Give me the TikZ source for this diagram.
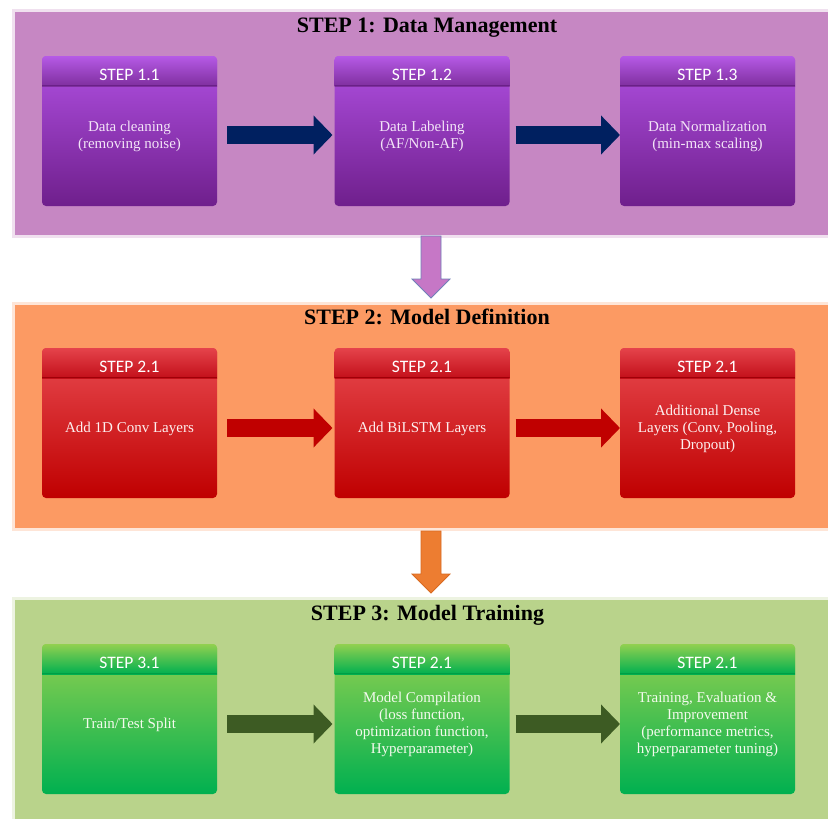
\documentclass[tikz,border=0pt]{standalone}
\usepackage{fontspec}
\setmainfont{Liberation Serif}
\newfontfamily\hdrfont{Carlito}
\usetikzlibrary{calc,arrows.meta}
\definecolor{bgA}{HTML}{C687C3}
\definecolor{bgB}{HTML}{FC9A63}
\definecolor{bgC}{HTML}{B9D38B}
\definecolor{hAt}{HTML}{B65AE6}
\definecolor{hAb}{HTML}{7F2F9F}
\definecolor{hAl}{HTML}{6A2088}
\definecolor{bAt}{HTML}{B050E2}
\definecolor{bAb}{HTML}{6F1F8C}
\definecolor{tA}{HTML}{F3E4F7}
\definecolor{hBt}{HTML}{E5434B}
\definecolor{hBb}{HTML}{C3101A}
\definecolor{hBl}{HTML}{A00008}
\definecolor{bBt}{HTML}{E84A50}
\definecolor{bBb}{HTML}{BF0000}
\definecolor{tB}{HTML}{FDF0F0}
\definecolor{hCt}{HTML}{92D050}
\definecolor{hCb}{HTML}{00B050}
\definecolor{hCl}{HTML}{009E45}
\definecolor{bCt}{HTML}{92D050}
\definecolor{bCb}{HTML}{00B050}
\definecolor{tC}{HTML}{F4FAEE}
\definecolor{arrA}{HTML}{002060}
\definecolor{arrB}{HTML}{C00000}
\definecolor{arrC}{HTML}{3D5B23}
\definecolor{dnA}{HTML}{C677C6}
\definecolor{dnAl}{HTML}{7080B8}
\definecolor{dnB}{HTML}{ED7D31}
\definecolor{dnBl}{HTML}{D86A20}
\tikzset{
  panel/.style={anchor=north west, inner sep=0pt, outer sep=0pt},
  box/.style={rounded corners=4pt, minimum width=175pt, minimum height=150pt, inner sep=0pt, outer sep=0pt},
  hdrtext/.style={text=white, font=\hdrfont\fontsize{17.5}{19}\selectfont, inner sep=0pt},
  bodytext/.style={align=center, font=\fontsize{15}{17}\selectfont, inner sep=0pt},
  titletext/.style={anchor=base, font=\bfseries\fontsize{22}{24}\selectfont, text=black, inner sep=0pt},
  harrow/.style={line width=18pt, -{Triangle[length=19pt,width=38pt]}},
  dnarrow/.style={line width=0.8pt, line join=miter}
}
\newcommand\mkbox[6]{%
  \node[box, top color=b#4t, bottom color=b#4b] (#1) at (#2,#3) {};
  \begin{scope}
    \clip[rounded corners=4pt] (#1.north west) rectangle (#1.south east);
    \shade[top color=h#4t, bottom color=h#4b] (#1.north west) rectangle ($(#1.north east)+(0,30)$);
    \draw[h#4l, line width=1pt] ($(#1.north west)+(0,29.5)$) -- ($(#1.north east)+(0,29.5)$);
  \end{scope}
  \node[hdrtext, anchor=base] (#1h) at ($(#1.north)+(0,24.5)$) {#5};
  \node[bodytext, text=t#4] (#1t) at ($(#1.center)+(0,5.5)$) {#6};
}
\begin{document}
\begin{tikzpicture}[x=1pt,y=-1pt]
\useasboundingbox (0,0) rectangle (828,819);
\fill[white] (0,0) rectangle (828,819);

% panels
\node[panel, fill=bgA, minimum width=813pt, minimum height=223pt] (p1) at (15,12) {};
\node[panel, fill=bgB, minimum width=813pt, minimum height=223pt] (p2) at (15,305) {};
\node[panel, fill=bgC, minimum width=813pt, minimum height=219pt] (p3) at (15,600) {};
\draw[bgA, line width=6pt, opacity=0.25] (p1.north west) rectangle (p1.south east);
\draw[bgB, line width=6pt, opacity=0.25] (p2.north west) rectangle (p2.south east);
\draw[bgC, line width=6pt, opacity=0.25] (p3.north west) rectangle (p3.south east);

% titles
\node[titletext] (T1) at (427,32) {STEP 1: Data Management};
\node[titletext] (T2) at (427,324) {STEP 2: Model Definition};
\node[titletext] (T3) at (427.5,620) {STEP 3: Model Training};

% row 1
\mkbox{b11}{129.5}{131}{A}{STEP 1.1}{Data cleaning\\(removing noise)}
\mkbox{b12}{422}{131}{A}{STEP 1.2}{Data Labeling\\(AF/Non-AF)}
\mkbox{b13}{707.5}{131}{A}{STEP 1.3}{Data Normalization\\(min-max scaling)}
\draw[harrow, arrA] ($(b11.east)+(10,4)$) -- ($(b12.west)+(-2,4)$);
\draw[harrow, arrA] ($(b12.east)+(6,4)$) -- ($(b13.west)+(0,4)$);

% row 2
\mkbox{b21}{129.5}{423}{B}{STEP 2.1}{Add 1D Conv Layers}
\mkbox{b22}{422}{423}{B}{STEP 2.1}{Add BiLSTM Layers}
\mkbox{b23}{707.5}{423}{B}{STEP 2.1}{Additional Dense\\Layers (Conv, Pooling,\\Dropout)}
\draw[harrow, arrB] ($(b21.east)+(10,5)$) -- ($(b22.west)+(-2,5)$);
\draw[harrow, arrB] ($(b22.east)+(6,5)$) -- ($(b23.west)+(0,5)$);

% row 3
\mkbox{b31}{129.5}{719}{C}{STEP 3.1}{Train/Test Split}
\mkbox{b32}{422}{719}{C}{STEP 2.1}{Model Compilation\\(loss function,\\optimization function,\\Hyperparameter)}
\mkbox{b33}{707.5}{719}{C}{STEP 2.1}{Training, Evaluation \&\\Improvement\\(performance metrics,\\hyperparameter tuning)}
\draw[harrow, arrC] ($(b31.east)+(10,5)$) -- ($(b32.west)+(-2,5)$);
\draw[harrow, arrC] ($(b32.east)+(6,5)$) -- ($(b33.west)+(0,5)$);

% down arrows between panels
\coordinate (d1) at (431,236);
\coordinate (d2) at (431,531);
\draw[dnarrow, fill=dnA, draw=dnAl] (d1) ++(-10,0) -- ++(0,43) -- ++(-9,0) -- ++(19,19) -- ++(19,-19) -- ++(-9,0) -- ++(0,-43) -- cycle;
\draw[dnarrow, fill=dnB, draw=dnBl] (d2) ++(-10,0) -- ++(0,43) -- ++(-9,0) -- ++(19,19) -- ++(19,-19) -- ++(-9,0) -- ++(0,-43) -- cycle;
\end{tikzpicture}
\end{document}
